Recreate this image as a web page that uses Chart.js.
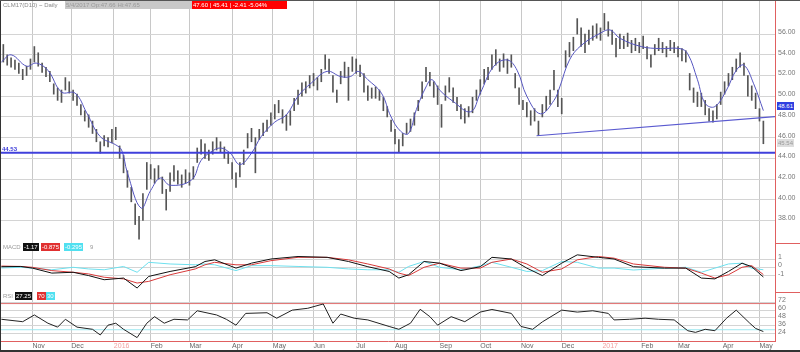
<!DOCTYPE html>
<html>
<head>
<meta charset="utf-8">
<script src="https://cdn.jsdelivr.net/npm/chart.js@4.4.0/dist/chart.umd.min.js"></script>
<style>
  html, body { margin: 0; padding: 0; background: #fff; }
  #wrap { position: relative; width: 800px; height: 352px; overflow: hidden; font-family: "Liberation Sans", sans-serif; }
  #wrap canvas { position: absolute; left: 0; top: 0; }
  #frameLeft { position: absolute; left: 0; top: 0; width: 1px; height: 352px; background: #333; }
  #frameTop { position: absolute; left: 0; top: 0; width: 800px; height: 1px; background: #555; }
  #frameBottom { position: absolute; left: 0; top: 350px; width: 800px; height: 2px; background: #333; }
  .lbl { position: absolute; font-size: 6px; line-height: 8px; height: 8px; white-space: nowrap; overflow: hidden; }
  .box { padding: 0 1px; }
</style>
</head>
<body>
<div id="wrap">
  <canvas id="chart" width="800" height="350"></canvas>
  <div id="frameLeft"></div>
  <div id="frameTop"></div>
  <div id="frameBottom"></div>

  <div class="lbl" style="left:3px; top:1px; color:#888;">CLM17(D10) ~ Daily</div>
  <div class="lbl box" style="left:65px; top:1px; width:125px; background:#c8c8c8; color:#999;">5/4/2017 Op:47.66 Hi:47.65</div>
  <div class="lbl box" style="left:192px; top:1px; width:93px; background:#f00; color:#fff;">47.60 | 45.41 | -2.41 -5.04%</div>

  <div class="lbl" style="left:2px; top:145px; color:#3a3ad8; font-weight:bold;">44.53</div>
  <div class="lbl box" style="left:777px; top:102px; background:#2f3fe0; color:#fff;">48.61</div>
  <div class="lbl box" style="left:777px; top:139px; background:#ddd; color:#999;">45.54</div>

  <div class="lbl" style="left:3px; top:243px; color:#999;">MACD</div>
  <div class="lbl box" style="left:23px; top:243px; background:#111; color:#fff;">-1.17</div>
  <div class="lbl box" style="left:41px; top:243px; background:#e03030; color:#fff;">-0.875</div>
  <div class="lbl box" style="left:64px; top:243px; background:#50e0f0; color:#fff;">-0.295</div>
  <div class="lbl" style="left:90px; top:243px; color:#999;">9</div>

  <div class="lbl" style="left:3px; top:292px; color:#999;">RSI</div>
  <div class="lbl box" style="left:15px; top:292px; background:#111; color:#fff;">27.25</div>
  <div class="lbl box" style="left:37px; top:292px; background:#e03030; color:#fff;">70</div>
  <div class="lbl box" style="left:46px; top:292px; background:#50e0f0; color:#fff;">30</div>
</div>

<script>
// ---------------------------------------------
// DATA (trading-day index: 0 = 9 Oct 2015)
// ---------------------------------------------
const monthDays = [16, 36, 58, 77, 97, 119, 140, 161, 183, 203, 226, 247, 268, 289, 310, 330, 349, 372, 391];
const monthLabels = ['Nov', 'Dec', '2016', 'Feb', 'Mar', 'Apr', 'May', 'Jun', 'Jul', 'Aug', 'Sep', 'Oct', 'Nov', 'Dec', '2017', 'Feb', 'Mar', 'Apr', 'May'];

const priceTicks = [38, 40, 42, 44, 46, 48, 50, 52, 54, 56];
const macdTicks = [-1, 0, 1];
const rsiTicks = [24, 36, 48, 60, 72];

// one bar every second trading day, first bar on day 1
const barFirstDay = 1;
const barStep = 2;
const barHighs = [
  55.0, 54.0, 53.7, 53.5, 53.2, 52.6, 52.9, 53.6, 54.8, 54.2,
  53.2, 52.8, 52.4, 51.2, 50.8, 50.6, 51.8, 51.4, 50.6, 50.2,
  49.2, 48.6, 48.2, 47.6, 46.8, 45.6, 46.2, 46.0, 46.8, 47.0,
  45.2, 44.3, 42.8, 41.2, 39.6, 38.4, 40.6, 43.6, 43.4, 43.0,
  43.3, 42.2, 41.0, 42.6, 43.3, 42.8, 42.4, 42.9, 42.6, 43.2,
  45.0, 45.8, 45.4, 44.8, 45.6, 46.0, 45.6, 45.1, 44.6, 43.6,
  42.6, 43.6, 44.8, 46.4, 46.9, 46.0, 46.8, 47.4, 47.7, 48.4,
  49.2, 49.6, 48.7, 48.2, 48.6, 49.8, 50.6, 51.3, 51.4, 52.0,
  52.2, 51.8, 52.6, 54.0, 53.6, 52.0, 50.6, 52.4, 53.3, 52.8,
  53.8, 53.6, 53.0, 52.2, 51.0, 50.8, 50.9, 50.6, 49.9, 49.0,
  47.7, 46.8, 45.8, 46.4, 47.4, 47.8, 48.4, 49.6, 51.4, 52.8,
  52.3, 51.4, 51.0, 49.2, 51.0, 51.8, 50.8, 49.9, 49.2, 48.8,
  49.0, 49.9, 50.6, 51.6, 52.6, 52.8, 54.0, 54.5, 53.6, 54.1,
  53.6, 54.0, 52.2, 50.8, 49.6, 49.4, 48.6, 48.8, 47.6, 49.2,
  50.0, 50.6, 52.5, 50.6, 49.8, 54.4, 55.2, 55.7, 57.5, 56.6,
  56.0, 56.4, 56.8, 57.0, 56.6, 58.0, 57.2, 56.4, 55.6, 56.0,
  55.8, 56.1, 55.4, 55.6, 55.2, 55.8, 54.8, 54.0, 55.0, 55.6,
  55.2, 54.8, 55.4, 55.2, 54.8, 54.6, 54.4, 52.2, 50.8, 50.4,
  50.3, 49.6, 48.8, 48.6, 49.2, 50.4, 51.4, 52.2, 52.8, 53.6,
  54.2, 53.2, 52.0, 51.0, 50.3, 48.8, 47.6
];
const barLows = [
  53.3, 53.0, 52.8, 52.6, 52.2, 51.6, 52.0, 52.6, 53.3, 52.9,
  52.3, 51.9, 51.4, 50.2, 49.6, 49.4, 50.6, 50.3, 49.6, 49.1,
  48.2, 47.6, 47.0, 46.4, 45.6, 44.5, 45.2, 45.1, 45.5, 45.8,
  44.0, 42.6, 41.2, 39.8, 37.6, 36.2, 38.0, 41.0, 42.0, 41.6,
  42.0, 40.6, 39.0, 40.8, 41.8, 41.5, 41.2, 41.6, 41.4, 42.0,
  43.6, 44.4, 44.0, 43.8, 44.4, 44.8, 44.6, 44.0, 43.5, 42.0,
  41.2, 42.2, 43.4, 45.0, 45.6, 42.6, 45.8, 46.2, 46.6, 47.2,
  47.8, 48.4, 47.4, 46.7, 47.2, 48.6, 49.2, 50.0, 50.3, 50.8,
  51.0, 50.6, 51.4, 52.6, 52.2, 50.4, 49.4, 51.2, 51.8, 49.6,
  52.4, 52.2, 51.9, 50.4, 49.6, 49.8, 49.8, 49.6, 48.6, 48.0,
  46.6, 45.4, 44.6, 45.2, 46.4, 46.6, 47.2, 48.6, 49.8, 51.4,
  51.0, 49.9, 49.2, 47.0, 49.6, 50.4, 49.4, 48.6, 47.8, 47.4,
  48.0, 48.4, 49.6, 50.2, 51.2, 51.6, 52.6, 53.0, 52.4, 52.8,
  52.2, 52.8, 50.8, 49.2, 48.7, 48.0, 47.2, 47.6, 46.2, 48.0,
  48.6, 49.2, 50.6, 49.0, 48.3, 52.8, 53.8, 54.4, 56.0, 54.8,
  54.2, 55.0, 55.4, 55.6, 55.4, 56.4, 55.8, 55.0, 53.8, 54.6,
  54.6, 54.8, 54.2, 54.4, 54.2, 54.6, 53.6, 52.8, 54.0, 54.4,
  54.2, 53.8, 54.4, 54.2, 53.8, 53.4, 53.3, 50.6, 49.4, 49.0,
  49.0, 48.2, 47.6, 47.5, 47.8, 49.2, 50.2, 51.0, 51.6, 52.4,
  52.8, 52.0, 50.0, 49.6, 48.8, 47.6, 45.41
];

// moving average
const maDays = [0, 5, 13, 18, 24, 31, 38, 44, 51, 59, 62, 65, 72, 77, 82, 87, 98, 103, 108, 113, 118, 123, 129, 134, 141, 147, 153, 160, 168, 175, 180, 184, 189, 196, 201, 206, 210, 214, 219, 222, 226, 233, 242, 247, 254, 261, 266, 271, 278, 285, 288, 293, 299, 309, 314, 319, 330, 340, 350, 354, 359, 363, 368, 374, 379, 383, 388, 393];
const maValues = [53.3, 54.0, 52.9, 53.2, 52.5, 50.4, 50.3, 48.4, 46.1, 45.3, 44.8, 42.6, 39.2, 40.9, 42.1, 41.4, 41.9, 43.8, 44.6, 45.0, 44.5, 43.4, 44.5, 46.1, 47.5, 48.2, 50.0, 51.3, 52.4, 51.9, 51.9, 52.4, 51.6, 50.3, 48.0, 46.6, 46.4, 48.7, 50.9, 51.6, 50.6, 49.5, 48.5, 50.3, 52.9, 53.5, 52.5, 50.0, 48.3, 49.6, 50.9, 53.5, 54.9, 56.1, 56.4, 55.6, 54.8, 54.6, 54.6, 54.1, 51.6, 49.3, 49.0, 50.6, 52.5, 53.0, 51.2, 48.61];

// support level and rising trend line
const supportLevel = 44.53;
const trendDays = [276, 399];
const trendValues = [46.18, 48.02];

// MACD panel
const macdDays = [0, 10, 16, 26, 37, 45, 53, 63, 70, 76, 87, 100, 105, 110, 121, 129, 139, 153, 168, 179, 189, 200, 205, 210, 218, 226, 237, 247, 253, 263, 271, 279, 289, 297, 308, 316, 326, 342, 353, 361, 368, 375, 382, 387, 393];
const macdLine = [0.07, 0.1, -0.1, -0.7, -0.6, -1.0, -1.5, -1.3, -2.5, -1.1, -0.5, 0.07, 0.7, 0.9, -0.1, 0.5, 1.0, 1.3, 1.2, 0.7, 0.07, -0.5, -1.3, -0.9, 0.7, 0.5, -0.4, 0.07, 1.2, 1.0, -0.1, -1.0, 0.5, 1.5, 1.2, 1.0, 0.07, -0.1, -0.1, -1.3, -1.4, -0.5, 0.5, 0.07, -1.17];
const macdSignal = [0.15, 0.1, 0.0, -0.4, -0.6, -0.8, -1.2, -1.4, -1.9, -1.7, -0.9, -0.2, 0.3, 0.6, 0.3, 0.3, 0.8, 1.2, 1.2, 0.9, 0.4, -0.2, -0.7, -1.0, 0.0, 0.5, -0.1, -0.1, 0.6, 1.0, 0.4, -0.6, -0.2, 0.9, 1.3, 1.1, 0.4, 0.0, -0.1, -0.7, -1.3, -0.9, 0.0, 0.2, -0.875];
const macdDiff = [-0.08, 0.0, -0.1, -0.3, 0.0, -0.2, -0.3, 0.1, -0.6, 0.6, 0.4, 0.3, 0.4, 0.3, -0.4, 0.2, 0.2, 0.1, 0.0, -0.2, -0.3, -0.3, -0.6, 0.1, 0.7, 0.0, -0.3, 0.17, 0.6, 0.0, -0.5, -0.4, 0.7, 0.6, -0.1, -0.1, -0.33, -0.1, 0.0, -0.6, -0.1, 0.4, 0.5, -0.13, -0.295];

// RSI panel
const rsiDays = [0, 11, 17, 24, 29, 33, 39, 47, 51, 55, 59, 63, 70, 75, 79, 84, 89, 96, 101, 111, 116, 121, 126, 137, 142, 150, 158, 166, 171, 175, 182, 189, 200, 205, 211, 216, 221, 225, 232, 239, 247, 253, 263, 268, 274, 279, 284, 289, 297, 305, 313, 316, 324, 332, 339, 347, 354, 358, 363, 368, 374, 379, 386, 389, 393];
const rsiValues = [46, 42.3, 52.6, 40, 34, 46, 34, 30.7, 22, 37, 40, 30.7, 18, 40, 50, 40, 46, 45, 59, 52.6, 46, 37, 55, 56, 47.6, 60, 62.8, 69.4, 40, 54, 47.6, 45, 35, 30.7, 40, 61.3, 50, 37, 50, 42.3, 57, 61, 55, 35, 30.7, 42, 51, 60, 57, 59, 55, 45, 46, 47.6, 46, 45, 28.5, 26, 30.7, 28.5, 47.6, 60, 40, 32, 27.25];
const rsiLevels = [70, 30];

// ---------------------------------------------
// HELPERS
// ---------------------------------------------
const X_MIN = -0.2;
const X_MAX = 399;

function toPoints(days, values) {
    return days.map((d, i) => ({ x: d, y: values[i] }));
}

const barPoints = barHighs.map((h, i) => ({ x: barFirstDay + i * barStep, y: [barLows[i], h] }));

function fixedTicks(values) {
    return function (scale) {
        scale.ticks = values.map(v => ({ value: v }));
    };
}

const axisFont = { family: 'Liberation Sans', size: 7 };
const gridGray = '#d4d4d4';
const borderRed = '#e06060';

function yAxis(weight, min, max, ticks, fmt) {
    return {
        type: 'linear',
        position: 'right',
        stack: 'panes',
        stackWeight: weight,
        min: min,
        max: max,
        afterBuildTicks: fixedTicks(ticks),
        afterFit: function (scale) {
            scale.width = 25;
            scale.paddingTop = 0;
            scale.paddingBottom = 0;
        },
        grid: { color: gridGray, drawTicks: false },
        border: { color: borderRed, width: 1 },
        ticks: {
            font: axisFont,
            color: '#777',
            padding: 3,
            labelOffset: -2,
            autoSkip: false,
            callback: fmt
        }
    };
}

// red separators in the axis column between panes
const paneSeparators = {
    id: 'paneSeparators',
    afterDraw(chart) {
        const ctx = chart.ctx;
        const right = chart.chartArea.right;
        ctx.save();
        ctx.strokeStyle = borderRed;
        ctx.lineWidth = 1;
        ['macd', 'rsi'].forEach(function (id) {
            const y = Math.round(chart.scales[id].top) + 0.5;
            ctx.beginPath();
            ctx.moveTo(right, y);
            ctx.lineTo(chart.width, y);
            ctx.stroke();
        });
        ctx.restore();
    }
};

// ---------------------------------------------
// CHART
// ---------------------------------------------
new Chart(document.getElementById('chart'), {
    data: {
        datasets: [
            {
                type: 'bar',
                data: barPoints,
                xAxisID: 'x',
                yAxisID: 'y',
                backgroundColor: '#555',
                barThickness: 1,
                grouped: false,
                order: 5
            },
            {
                type: 'line',
                data: toPoints(maDays, maValues),
                yAxisID: 'y',
                borderColor: '#5656c0',
                borderWidth: 1,
                pointRadius: 0,
                tension: 0.4,
                order: 4
            },
            {
                type: 'line',
                data: toPoints([X_MIN, X_MAX], [supportLevel, supportLevel]),
                yAxisID: 'y',
                borderColor: '#4040dc',
                borderWidth: 2,
                pointRadius: 0,
                order: 3
            },
            {
                type: 'line',
                data: toPoints(trendDays, trendValues),
                yAxisID: 'y',
                borderColor: '#5a5ad0',
                borderWidth: 1.2,
                pointRadius: 0,
                order: 3
            },
            {
                type: 'line',
                data: toPoints(macdDays, macdDiff),
                yAxisID: 'macd',
                borderColor: '#6ee0ee',
                borderWidth: 1,
                pointRadius: 0,
                order: 3
            },
            {
                type: 'line',
                data: toPoints(macdDays, macdSignal),
                yAxisID: 'macd',
                borderColor: '#d83a3a',
                borderWidth: 1,
                pointRadius: 0,
                order: 2
            },
            {
                type: 'line',
                data: toPoints(macdDays, macdLine),
                yAxisID: 'macd',
                borderColor: '#111',
                borderWidth: 1,
                pointRadius: 0,
                order: 1
            },
            {
                type: 'line',
                data: toPoints([X_MIN, X_MAX], [rsiLevels[0], rsiLevels[0]]),
                yAxisID: 'rsi',
                borderColor: '#e07070',
                borderWidth: 1,
                pointRadius: 0,
                order: 3
            },
            {
                type: 'line',
                data: toPoints([X_MIN, X_MAX], [rsiLevels[1], rsiLevels[1]]),
                yAxisID: 'rsi',
                borderColor: '#9fe8f0',
                borderWidth: 1,
                pointRadius: 0,
                order: 3
            },
            {
                type: 'line',
                data: toPoints(rsiDays, rsiValues),
                yAxisID: 'rsi',
                borderColor: '#222',
                borderWidth: 1,
                pointRadius: 0,
                order: 1
            }
        ]
    },
    options: {
        responsive: false,
        animation: false,
        devicePixelRatio: 1,
        layout: { padding: { left: 1, top: 1, right: 0, bottom: 0 } },
        plugins: {
            legend: { display: false },
            tooltip: { enabled: false }
        },
        scales: {
            x: {
                type: 'linear',
                position: 'bottom',
                offset: false,
                min: X_MIN,
                max: X_MAX,
                afterBuildTicks: fixedTicks(monthDays),
                afterFit: function (scale) {
                    scale.height = 9;
                    scale.paddingLeft = 0;
                    scale.paddingRight = 0;
                },
                grid: { color: '#c8c8c8', drawTicks: false, offset: false },
                border: { color: borderRed, width: 1 },
                ticks: {
                    font: axisFont,
                    padding: 1,
                    align: 'start',
                    maxRotation: 0,
                    autoSkip: false,
                    color: function (c) {
                        const lbl = monthLabels[monthDays.indexOf(c.tick.value)];
                        return /^\d{4}$/.test(lbl) ? '#f2a0a0' : '#666';
                    },
                    callback: function (v) { return monthLabels[monthDays.indexOf(v)]; }
                }
            },
            y: yAxis(242, 35.82, 59.2, priceTicks, v => v.toFixed(2)),
            macd: yAxis(49, -2.98, 2.93, macdTicks, v => String(v)),
            rsi: yAxis(49, 12.8, 87.7, rsiTicks, v => String(v))
        }
    },
    plugins: [paneSeparators]
});
</script>
</body>
</html>
